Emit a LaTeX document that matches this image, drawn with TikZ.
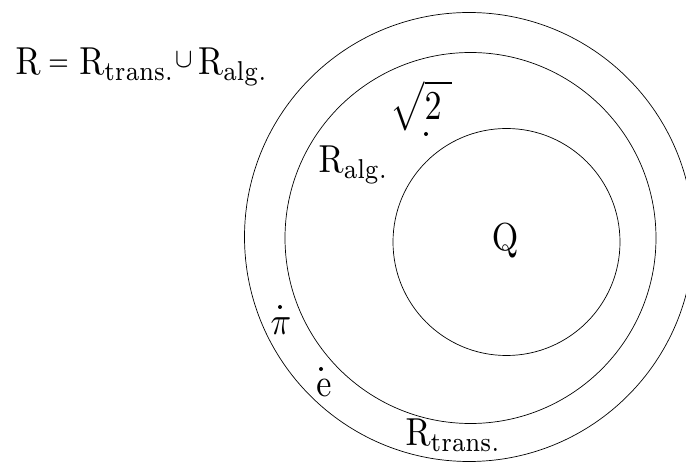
\documentclass[tikz,border=0pt]{standalone}
\tikzset{
  ring/.style={draw=black, line width=0.7pt},
  lbl/.style={inner sep=0pt, xscale=3.4, yscale=3.9},
  pt/.style={fill=black},
}
\begin{document}
\begin{tikzpicture}[x=1pt,y=-1pt]
\useasboundingbox (0,0) rectangle (686,462);
\clip (0,0) rectangle (686,462);
\draw[ring] (469,237) circle[radius=224.5];
\draw[ring] (470.5,238) circle[radius=185.5];
\draw[ring] (506.5,242) circle[radius=113.5];
\node[lbl, anchor=base west] (formula) at (15,75)
  {$\mathrm{R}\hspace{2.2pt}\raisebox{0.12em}{$\scriptstyle=$}\hspace{3pt}\mathrm{R}_{\mathrm{trans.}}\raisebox{0.18em}{$\scriptstyle\cup$}\hspace{1.5pt}\mathrm{R}_{\mathrm{alg.}}$};
\node[lbl, anchor=base west] (ralg) at (318,173) {$\mathrm{R}_{\mathrm{alg.}}$};
\node[lbl, anchor=base west] (rtrans) at (405,446) {$\mathrm{R}_{\mathrm{trans.}}$};
\node[lbl, anchor=base] (q) at (505,251) {$\mathrm{Q}$};
\node[lbl, yscale=1.05, anchor=base west] (sqrt2) at (390,120) {$\sqrt{\rule[-2.8pt]{0pt}{11.1pt}2\hspace{3pt}}$};
\node[lbl, anchor=base] (pi) at (281,335) {$\pi$};
\node[lbl, anchor=base] (e) at (324,397) {$\mathrm{e}$};
\fill[pt] (426,134) circle[radius=2];
\fill[pt] (280,307) circle[radius=2];
\fill[pt] (321,369) circle[radius=2];
\end{tikzpicture}
\end{document}
